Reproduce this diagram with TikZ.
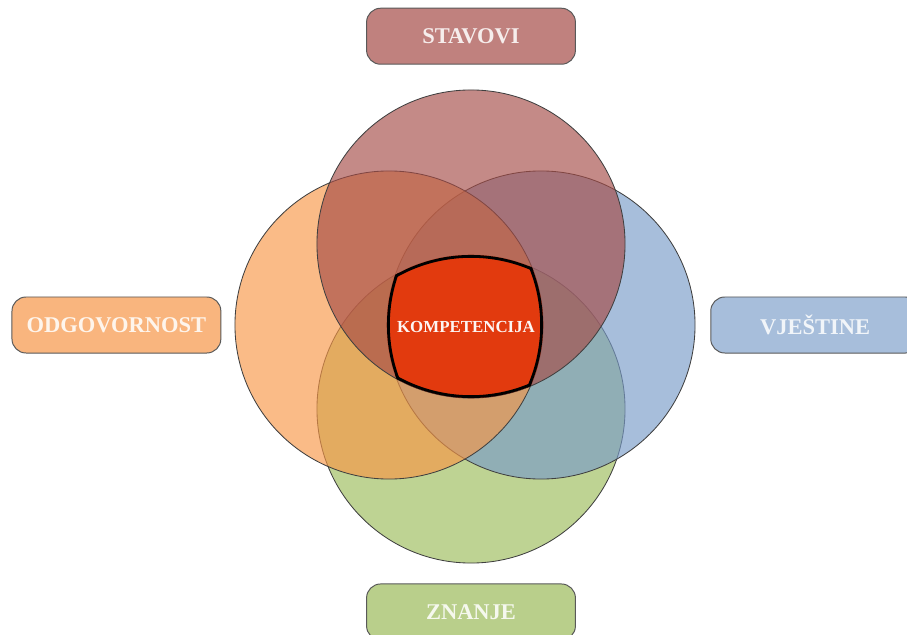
\documentclass[tikz,border=0pt]{standalone}
\usepackage{fontspec}
\setmainfont{Liberation Serif}
\usetikzlibrary{positioning}

\definecolor{stavcol}{RGB}{165,75,70}
\definecolor{vjescol}{RGB}{120,155,200}
\definecolor{znancol}{RGB}{155,187,89}
\definecolor{odgocol}{RGB}{247,150,70}
\definecolor{kompcol}{RGB}{226,58,14}

\begin{document}
\begin{tikzpicture}[x=0.025cm, y=0.025cm,
    ring/.style={circle, draw=black!75, line width=0.6pt, fill opacity=0.65, minimum size=7.7cm, inner sep=0pt},
    tag/.style={rounded corners=10pt, draw=black!65, line width=0.7pt, minimum width=5.22cm, minimum height=1.4cm, font=\bfseries\fontsize{16}{18}\selectfont}]
    \useasboundingbox (0,0) rectangle (907,634);
    \clip (0,0) rectangle (907,634);

    % the four circles
    \node[ring, fill=znancol] (znanring) at (471,225) {};
    \node[ring, fill=vjescol] (vjesring) at (541,309) {};
    \node[ring, fill=odgocol] (odgoring) at (389,309) {};
    \node[ring, fill=stavcol] (stavring) at (471,390) {};

    % common part of all four
    \begin{scope}
        \clip (znanring.center) circle[radius=3.85cm];
        \clip (odgoring.center) circle[radius=3.85cm];
        \clip (vjesring.center) circle[radius=3.85cm];
        \clip (stavring.center) circle[radius=3.85cm];
        \fill[kompcol] (466,307) circle[radius=4cm];
        \foreach \r in {znanring, odgoring, vjesring, stavring}
            \draw[line width=4pt] (\r.center) circle[radius=3.85cm];
    \end{scope}
    \node[font=\bfseries\fontsize{12}{14}\selectfont, text=white!95!kompcol] (komp) at (466,307) {KOMPETENCIJA};

    \node[tag, fill=stavcol!70!white, text=white!90!stavcol] (stavovi) [above=0.62cm of stavring] {STAVOVI};
    \node[tag, fill=odgocol!70!white, text=white!90!odgocol] (odgovornost) [left=0.33cm of odgoring] {ODGOVORNOST};
    \node[tag, fill=vjescol!65!white, text=white!90!vjescol] (vjestine) [right=0.37cm of vjesring] {VJEŠTINE};
    \node[tag, fill=znancol!70!white, text=white!90!znancol] (znanje) [below=0.5cm of znanring] {ZNANJE};
\end{tikzpicture}
\end{document}
